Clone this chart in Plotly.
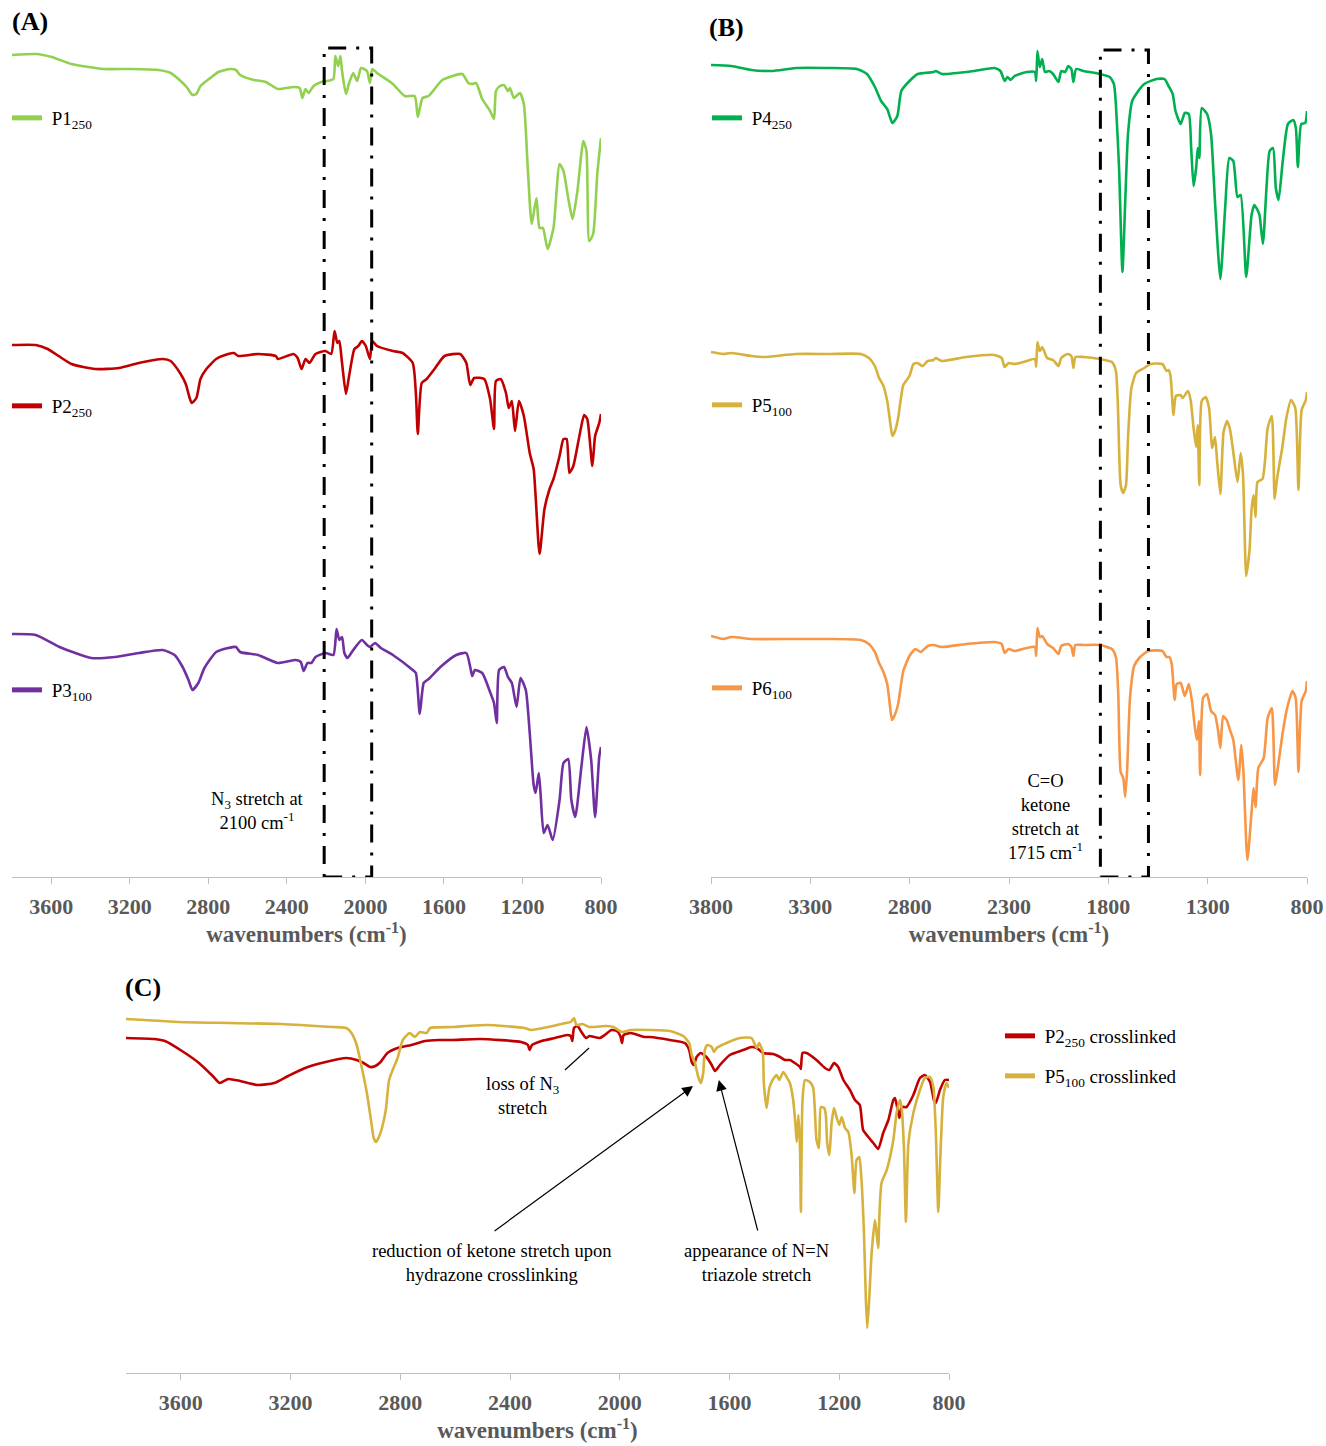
import plotly.graph_objects as go

W, H = 1326, 1446
SERIF = "Times New Roman, Liberation Serif, serif"
AXIS_GREY = "#bfbfbf"
LABEL_GREY = "#595959"

# ---------------------------------------------------------------------------
# FTIR spectra: (wavenumber / cm-1, relative transmittance / a.u.)
# ---------------------------------------------------------------------------
P1_250 = [(3800, 0), (3679, 1), (3598, -2), (3497, -9), (3336, -14), (3194, -14), (3053, -15), (2992, -18),
          (2941, -26), (2911, -32), (2881, -40), (2861, -39), (2840, -31), (2790, -23), (2749, -17), (2689, -14),
          (2659, -15), (2638, -20), (2568, -25), (2507, -27), (2446, -34), (2366, -32), (2335, -33), (2321, -43),
          (2305, -34), (2289, -38), (2264, -31), (2224, -27), (2194, -26), (2163, -24), (2153, -1), (2139, -11),
          (2127, -1), (2119, -16), (2099, -39), (2083, -28), (2062, -18), (2042, -26), (2022, -13), (1992, -16),
          (1977, -28), (1965, -14), (1941, -18), (1860, -29), (1800, -41), (1749, -41), (1733, -62), (1709, -43),
          (1678, -41), (1608, -25), (1507, -19), (1476, -28), (1456, -29), (1436, -28), (1405, -44), (1365, -56),
          (1345, -64), (1335, -36), (1315, -31), (1294, -30), (1274, -36), (1264, -33), (1244, -43), (1213, -38),
          (1193, -49), (1173, -113), (1153, -169), (1129, -143), (1113, -173), (1096, -173), (1072, -194),
          (1042, -173), (1011, -109), (991, -116), (967, -143), (945, -164), (920, -136), (890, -86), (874, -96),
          (860, -186), (840, -179), (819, -119), (800, -83)]

P2_250 = [(3800, 0), (3679, 0), (3618, -4), (3497, -19), (3376, -24), (3255, -23), (3154, -18), (3032, -14),
          (2992, -16), (2941, -29), (2915, -39), (2895, -53), (2885, -58), (2861, -53), (2840, -34), (2810, -24),
          (2760, -14), (2699, -9), (2669, -8), (2648, -11), (2547, -9), (2456, -11), (2446, -14), (2366, -9),
          (2345, -13), (2325, -24), (2305, -14), (2285, -18), (2254, -9), (2204, -6), (2174, -9), (2157, 14),
          (2143, 2), (2133, 4), (2119, -18), (2099, -49), (2083, -31), (2056, -4), (2036, -1), (2018, 4),
          (1998, -1), (1977, -14), (1965, 4), (1941, -1), (1860, -6), (1810, -8), (1759, -18), (1743, -48),
          (1733, -89), (1713, -38), (1688, -34), (1648, -24), (1597, -11), (1517, -9), (1486, -18), (1466, -40),
          (1446, -33), (1395, -34), (1365, -54), (1345, -84), (1335, -36), (1311, -34), (1284, -48), (1270, -63),
          (1254, -56), (1238, -86), (1218, -56), (1193, -71), (1163, -108), (1143, -124), (1113, -209),
          (1088, -164), (1062, -144), (1042, -134), (1011, -111), (991, -94), (975, -94), (961, -128), (941, -121),
          (910, -91), (886, -70), (870, -74), (844, -121), (830, -91), (809, -78), (800, -69)]

P3_100 = [(3800, 0), (3679, -1), (3558, -13), (3396, -24), (3275, -23), (3154, -19), (3032, -16), (2972, -21),
          (2931, -33), (2901, -46), (2881, -56), (2851, -49), (2820, -34), (2760, -18), (2699, -14), (2659, -13),
          (2638, -18), (2547, -21), (2446, -29), (2355, -26), (2329, -28), (2315, -37), (2295, -29), (2275, -29),
          (2254, -23), (2204, -19), (2163, -21), (2147, 5), (2133, -6), (2119, -3), (2107, -19), (2091, -24),
          (2062, -16), (2018, -6), (1992, -11), (1977, -13), (1951, -9), (1921, -14), (1860, -21), (1759, -36),
          (1743, -39), (1723, -80), (1703, -49), (1678, -45), (1618, -33), (1537, -21), (1486, -19), (1466, -33),
          (1456, -42), (1442, -36), (1405, -39), (1365, -58), (1345, -69), (1331, -89), (1319, -36), (1294, -33),
          (1274, -43), (1254, -49), (1230, -73), (1210, -44), (1183, -56), (1163, -99), (1143, -151), (1133, -159),
          (1117, -139), (1108, -159), (1092, -199), (1072, -191), (1046, -206), (1011, -166), (991, -129),
          (967, -125), (951, -166), (931, -183), (900, -133), (874, -93), (850, -126), (830, -183), (809, -123),
          (800, -113)]

P4_250 = [(3800, 0), (3698, -1), (3596, -5), (3494, -6), (3372, -3), (3209, -3), (3066, -4), (3015, -9),
          (2975, -22), (2944, -36), (2913, -44), (2887, -58), (2862, -51), (2842, -26), (2801, -16), (2760, -9),
          (2679, -7), (2669, -6), (2638, -9), (2475, -6), (2373, -3), (2343, -6), (2322, -16), (2308, -12),
          (2292, -15), (2272, -11), (2210, -7), (2170, -7), (2163, -16), (2157, 14), (2145, -2), (2133, 6),
          (2119, -7), (2098, -6), (2078, -9), (2051, -17), (2037, -6), (2017, -7), (2002, -1), (1986, -4),
          (1976, -17), (1962, -4), (1925, -6), (1843, -9), (1793, -12), (1772, -19), (1762, -39), (1746, -103),
          (1729, -207), (1715, -137), (1701, -69), (1680, -36), (1660, -29), (1619, -19), (1558, -14), (1517, -14),
          (1497, -21), (1476, -29), (1462, -46), (1436, -59), (1415, -48), (1395, -49), (1383, -83), (1371, -121),
          (1358, -103), (1350, -83), (1342, -93), (1330, -43), (1303, -49), (1283, -69), (1263, -137),
          (1236, -214), (1212, -143), (1191, -93), (1171, -96), (1150, -132), (1134, -130), (1106, -212),
          (1079, -150), (1065, -140), (1049, -145), (1039, -150), (1022, -179), (1004, -123), (988, -86),
          (971, -83), (957, -123), (943, -135), (922, -96), (896, -59), (869, -55), (856, -63), (846, -102),
          (829, -59), (809, -58), (800, -46)]

P5_100 = [(3800, 0), (3739, -2), (3698, -1), (3596, -4), (3535, -5), (3372, -2), (3209, -2), (3046, -2),
          (3005, -6), (2975, -14), (2954, -26), (2934, -33), (2913, -49), (2899, -69), (2887, -84), (2872, -78),
          (2858, -66), (2846, -49), (2832, -33), (2801, -24), (2781, -12), (2760, -11), (2736, -14), (2709, -9),
          (2679, -8), (2669, -6), (2638, -9), (2516, -5), (2373, -3), (2337, -6), (2322, -15), (2302, -11),
          (2272, -12), (2210, -9), (2170, -7), (2163, -15), (2157, 10), (2145, 1), (2133, 5), (2108, -6),
          (2078, -8), (2051, -14), (2037, -6), (2006, -2), (1986, -4), (1976, -16), (1966, -5), (1925, -5),
          (1843, -7), (1782, -10), (1762, -19), (1752, -53), (1738, -133), (1725, -141), (1711, -133), (1701, -86),
          (1684, -36), (1660, -21), (1619, -16), (1589, -12), (1528, -12), (1507, -19), (1497, -18), (1487, -24),
          (1472, -63), (1460, -44), (1436, -43), (1426, -46), (1399, -39), (1385, -49), (1371, -76), (1358, -95),
          (1350, -73), (1342, -133), (1330, -49), (1310, -45), (1293, -56), (1277, -96), (1263, -85),
          (1252, -110), (1236, -142), (1220, -80), (1202, -69), (1187, -78), (1171, -100), (1150, -130),
          (1134, -101), (1122, -123), (1106, -224), (1089, -197), (1079, -157), (1069, -143), (1059, -165),
          (1049, -130), (1024, -127), (1012, -110), (998, -76), (977, -64), (963, -147), (951, -127), (924, -95),
          (904, -66), (880, -48), (859, -56), (843, -138), (827, -58), (806, -48), (800, -40)]

P6_100 = [(3800, 0), (3739, -3), (3698, -1), (3596, -3), (3392, -3), (3209, -3), (3046, -4), (3005, -8),
          (2975, -16), (2954, -27), (2934, -35), (2913, -48), (2903, -63), (2889, -84), (2875, -79), (2858, -68),
          (2846, -52), (2832, -35), (2801, -20), (2771, -13), (2744, -16), (2709, -10), (2679, -9), (2638, -11),
          (2516, -8), (2373, -6), (2337, -8), (2322, -17), (2302, -13), (2272, -15), (2210, -12), (2170, -11),
          (2163, -20), (2157, 8), (2145, -1), (2133, 0), (2108, -8), (2078, -12), (2051, -18), (2037, -10),
          (2002, -8), (1986, -11), (1976, -20), (1966, -9), (1925, -9), (1843, -9), (1782, -13), (1762, -21),
          (1750, -58), (1738, -136), (1725, -142), (1715, -161), (1705, -132), (1691, -62), (1670, -30),
          (1640, -21), (1599, -15), (1528, -15), (1507, -21), (1493, -21), (1481, -28), (1466, -64), (1456, -48),
          (1436, -47), (1415, -60), (1395, -48), (1379, -65), (1364, -92), (1354, -104), (1344, -85),
          (1338, -139), (1323, -62), (1303, -58), (1283, -75), (1263, -79), (1248, -94), (1236, -112),
          (1222, -80), (1202, -85), (1191, -92), (1171, -104), (1146, -144), (1130, -109), (1120, -136),
          (1100, -224), (1079, -176), (1069, -152), (1059, -171), (1045, -132), (1018, -122), (998, -82),
          (977, -72), (961, -149), (947, -132), (924, -99), (900, -72), (873, -55), (857, -62), (843, -136),
          (827, -65), (806, -55), (800, -45)]

P5_100_XL = [(3800, 0), (3733, -1), (3608, -3), (3421, -4), (3234, -5), (3047, -8), (2997, -9), (2978, -14),
             (2959, -26), (2941, -48), (2922, -74), (2907, -101), (2897, -119), (2888, -123), (2878, -118),
             (2866, -108), (2853, -91), (2841, -61), (2828, -51), (2810, -39), (2791, -21), (2766, -14),
             (2747, -18), (2729, -13), (2704, -14), (2691, -9), (2610, -8), (2485, -6), (2348, -9), (2323, -11),
             (2261, -8), (2198, -4), (2179, -3), (2167, 1), (2158, -6), (2136, -5), (2111, -8), (2048, -7),
             (2023, -8), (1992, -13), (1961, -11), (1890, -11), (1817, -12), (1769, -17), (1747, -24), (1738, -36),
             (1726, -44), (1714, -58), (1704, -64), (1696, -54), (1690, -31), (1681, -26), (1665, -28),
             (1657, -33), (1647, -29), (1611, -24), (1562, -19), (1520, -19), (1507, -26), (1501, -29),
             (1492, -24), (1479, -33), (1475, -64), (1465, -89), (1455, -69), (1443, -61), (1428, -56),
             (1419, -61), (1404, -53), (1392, -58), (1380, -64), (1368, -81), (1359, -108), (1355, -123),
             (1349, -96), (1343, -131), (1340, -193), (1334, -81), (1325, -61), (1307, -63), (1295, -69),
             (1289, -91), (1283, -121), (1274, -129), (1267, -88), (1255, -89), (1249, -96), (1244, -124),
             (1236, -136), (1228, -104), (1219, -89), (1210, -98), (1200, -106), (1191, -98), (1179, -109),
             (1167, -113), (1155, -136), (1145, -174), (1137, -141), (1127, -138), (1119, -161), (1110, -214),
             (1103, -281), (1098, -309), (1091, -281), (1082, -234), (1070, -201), (1064, -214), (1058, -229),
             (1054, -198), (1046, -164), (1027, -151), (1003, -121), (991, -94), (979, -81), (973, -88),
             (964, -131), (957, -203), (948, -124), (930, -94), (906, -71), (888, -59), (869, -58), (857, -68),
             (848, -114), (839, -193), (831, -134), (821, -78), (809, -64), (800, -69)]

P2_250_XL = [(3800, 0), (3696, -1), (3658, -3), (3596, -13), (3534, -25), (3484, -38), (3459, -45), (3427, -41),
             (3384, -43), (3321, -47), (3259, -45), (3209, -38), (3147, -30), (3072, -24), (2997, -20),
             (2959, -22), (2934, -25), (2910, -29), (2891, -28), (2872, -24), (2847, -15), (2810, -10),
             (2760, -7), (2710, -3), (2660, -2), (2610, -2), (2510, -1), (2360, -4), (2335, -7), (2329, -12),
             (2320, -7), (2285, -3), (2236, 0), (2192, 3), (2179, 2), (2173, -3), (2167, 10), (2154, 12),
             (2142, 7), (2123, 0), (2111, 2), (2073, 0), (2055, 3), (2030, 8), (2011, 7), (1998, 2), (1992, -5),
             (1986, 3), (1961, 5), (1911, 1), (1890, 1), (1817, -2), (1763, -5), (1747, -12), (1738, -24),
             (1730, -27), (1720, -19), (1705, -15), (1684, -19), (1665, -27), (1653, -33), (1635, -27),
             (1599, -17), (1550, -12), (1520, -9), (1501, -10), (1477, -15), (1441, -16), (1416, -19),
             (1398, -22), (1380, -22), (1362, -25), (1343, -29), (1340, -31), (1334, -15), (1319, -15),
             (1283, -22), (1252, -30), (1236, -32), (1219, -25), (1204, -29), (1185, -42), (1161, -52),
             (1143, -62), (1125, -67), (1113, -92), (1094, -99), (1076, -105), (1058, -111), (1040, -95),
             (1021, -82), (1003, -62), (997, -60), (987, -72), (981, -80), (973, -69), (955, -69), (930, -57),
             (906, -40), (888, -37), (869, -44), (855, -62), (848, -65), (833, -52), (815, -42), (800, -42)]

TICKS_A = [3600, 3200, 2800, 2400, 2000, 1600, 1200, 800]
TICKS_B = [3800, 3300, 2800, 2300, 1800, 1300, 800]
TICKS_C = [3600, 3200, 2800, 2400, 2000, 1600, 1200, 800]

# colours (Office palette)
LIGHT_GREEN = "#92D050"
DARK_RED = "#C00000"
PURPLE = "#7030A0"
GREEN = "#00B050"
GOLD = "#D6B13C"
ORANGE = "#F79646"

# vertical stacking offsets (a.u.) inside each panel
STACK = {"P1": -25, "P2": -315, "P3": -604,
         "P4": -35, "P5": -322, "P6": -606,
         "P5xl": -19, "P2xl": -38}


def fx(px):
    return px / W


def fy(py):
    return 1 - py / H


fig = go.Figure()


def add_spectrum(points, offset, color, xa, ya):
    fig.add_trace(go.Scatter(
        x=[p[0] for p in points], y=[p[1] + offset for p in points],
        mode="lines", line=dict(color=color, width=2.6, shape="spline", smoothing=0.55),
        xaxis=xa, yaxis=ya, showlegend=False, hoverinfo="skip"))


def add_key(label, color, legend, xa, ya):
    # a non-breaking space widens the gap between the swatch and its label
    fig.add_trace(go.Scatter(
        x=[None], y=[None], mode="lines", name="\u00a0" + label,
        line=dict(color=color, width=5), legend=legend,
        xaxis=xa, yaxis=ya, hoverinfo="skip"))


add_spectrum(P1_250, STACK["P1"], LIGHT_GREEN, "x", "y")
add_spectrum(P2_250, STACK["P2"], DARK_RED, "x", "y")
add_spectrum(P3_100, STACK["P3"], PURPLE, "x", "y")
add_spectrum(P4_250, STACK["P4"], GREEN, "x2", "y2")
add_spectrum(P5_100, STACK["P5"], GOLD, "x2", "y2")
add_spectrum(P6_100, STACK["P6"], ORANGE, "x2", "y2")
add_spectrum(P2_250_XL, STACK["P2xl"], DARK_RED, "x3", "y3")
add_spectrum(P5_100_XL, STACK["P5xl"], GOLD, "x3", "y3")

add_key("P1<sub>250</sub>", LIGHT_GREEN, "legend", "x", "y")
add_key("P2<sub>250</sub>", DARK_RED, "legend2", "x", "y")
add_key("P3<sub>100</sub>", PURPLE, "legend3", "x", "y")
add_key("P4<sub>250</sub>", GREEN, "legend4", "x2", "y2")
add_key("P5<sub>100</sub>", GOLD, "legend5", "x2", "y2")
add_key("P6<sub>100</sub>", ORANGE, "legend6", "x2", "y2")
add_key("P2<sub>250</sub> crosslinked", DARK_RED, "legend7", "x3", "y3")
add_key("P5<sub>100</sub> crosslinked", GOLD, "legend8", "x3", "y3")


def legend_at(px, py):
    return dict(x=fx(px - 5), y=fy(py), xanchor="left", yanchor="middle",
                bgcolor="rgba(0,0,0,0)", borderwidth=0, itemclick=False,
                font=dict(family=SERIF, size=19, color="black"))


tick_font = dict(family=SERIF, size=22, color=LABEL_GREY, weight="bold")
title_font = dict(family=SERIF, size=23, color=LABEL_GREY, weight="bold")


def x_axis(domain, anchor, ticks):
    return dict(domain=domain, anchor=anchor, range=[3800, 800], automargin=False,
                showline=True, linecolor=AXIS_GREY, linewidth=1.3,
                ticks="outside", ticklen=6, tickcolor=AXIS_GREY, tickwidth=1.3,
                tickvals=ticks, ticktext=[str(t) for t in ticks],
                tickfont=tick_font, ticklabelstandoff=3,
                showgrid=False, zeroline=False,
                title=dict(text="wavenumbers (cm<sup>-1</sup>)", font=title_font, standoff=5))


def y_axis(domain, anchor, span):
    return dict(domain=domain, anchor=anchor, range=[-span, 0], visible=False,
                automargin=False, showgrid=False, zeroline=False)


# dash-dot boxes marking the azide (A) and ketone (B) bands
box_line = dict(color="black", width=3, dash="18px,10px,3px,10px")
shapes = [
    dict(type="rect", xref="x", yref="y", x0=2210, x1=1968, y0=-847, y1=-18, line=box_line),
    dict(type="rect", xref="x2", yref="y2", x0=1840, x1=1598, y0=-847, y1=-20, line=box_line),
    dict(type="line", xref="x3", yref="y3", x0=2200, y0=-70, x1=2112, y1=-48,
         line=dict(color="black", width=1.2)),
]

note_font = dict(family=SERIF, size=18.5, color="black")
panel_font = dict(family=SERIF, size=26, color="black", weight="bold")
annotations = [
    dict(text="(A)", x=fx(10), y=fy(22), xref="paper", yref="paper", xanchor="left", yanchor="middle",
         showarrow=False, font=panel_font),
    dict(text="(B)", x=fx(707), y=fy(27), xref="paper", yref="paper", xanchor="left", yanchor="middle",
         showarrow=False, font=panel_font),
    dict(text="(C)", x=fx(123), y=fy(987), xref="paper", yref="paper", xanchor="left", yanchor="middle",
         showarrow=False, font=panel_font),
    dict(text="N<sub>3</sub> stretch at<br>2100 cm<sup>-1</sup>", x=2552, y=-781, xref="x", yref="y",
         showarrow=False, font=note_font),
    dict(text="C=O<br>ketone<br>stretch at<br>1715 cm<sup>-1</sup>", x=2114, y=-787, xref="x2", yref="y2",
         showarrow=False, font=note_font),
    dict(text="loss of N<sub>3</sub><br>stretch", x=2353, y=-96, xref="x3", yref="y3",
         showarrow=False, font=note_font),
    dict(text="reduction of ketone stretch upon<br>hydrazone crosslinking", x=2466, y=-263, xref="x3",
         yref="y3", showarrow=False, font=note_font),
    dict(text="appearance of N=N<br>triazole stretch", x=1500, y=-263, xref="x3", yref="y3",
         showarrow=False, font=note_font),
    dict(text="", x=1733, y=-86, xref="x3", yref="y3", ax=2462, ay=-232, axref="x3", ayref="y3",
         showarrow=True, arrowhead=2, arrowsize=1.8, arrowwidth=1.2, arrowcolor="black"),
    dict(text="", x=1639, y=-80, xref="x3", yref="y3", ax=1496, ay=-232, axref="x3", ayref="y3",
         showarrow=True, arrowhead=2, arrowsize=1.8, arrowwidth=1.2, arrowcolor="black"),
]

fig.update_layout(
    width=W, height=H,
    margin=dict(l=0, r=0, t=0, b=0, autoexpand=False),
    paper_bgcolor="white", plot_bgcolor="white",
    font=dict(family=SERIF, color="black"),
    xaxis=x_axis([fx(12), fx(601)], "y", TICKS_A),
    yaxis=y_axis([fy(877), fy(30)], "x", 847),
    xaxis2=x_axis([fx(711), fx(1307)], "y2", TICKS_B),
    yaxis2=y_axis([fy(877), fy(30)], "x2", 847),
    xaxis3=x_axis([fx(126), fx(949)], "y3", TICKS_C),
    yaxis3=y_axis([fy(1373), fy(1000)], "x3", 373),
    legend=legend_at(12, 118),
    legend2=legend_at(12, 406),
    legend3=legend_at(12, 690),
    legend4=legend_at(712, 118),
    legend5=legend_at(712, 405),
    legend6=legend_at(712, 688),
    legend7=legend_at(1005, 1036),
    legend8=legend_at(1005, 1076),
    shapes=shapes,
    annotations=annotations,
)

fig.write_html("out.html")
